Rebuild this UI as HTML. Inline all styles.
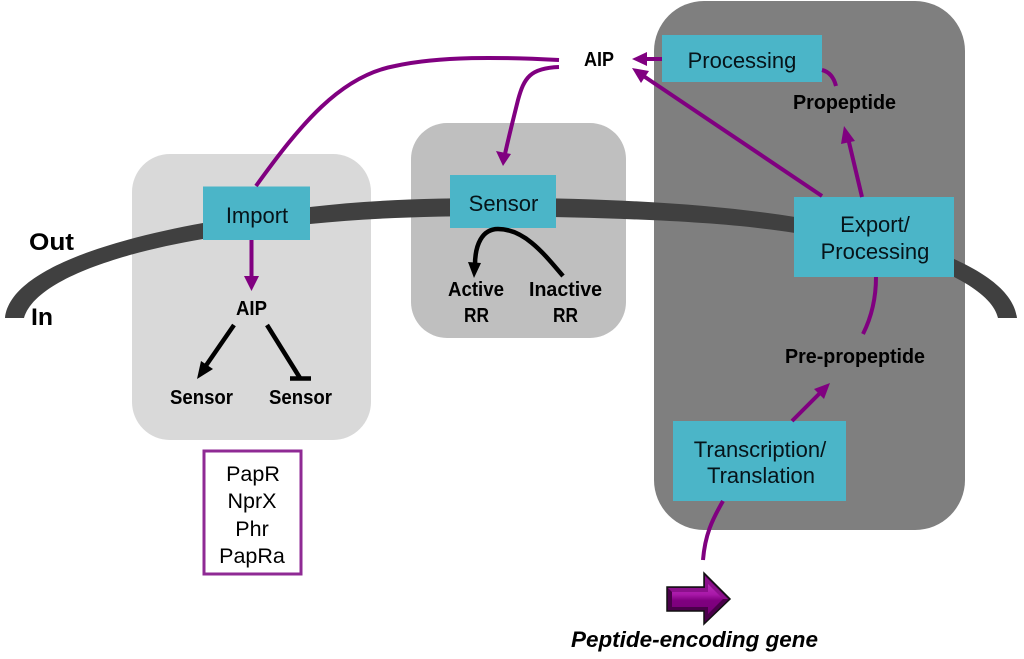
<!DOCTYPE html>
<html>
<head>
<meta charset="utf-8">
<style>
html,body{margin:0;padding:0;background:#fff;width:1024px;height:659px;overflow:hidden}
svg{display:block}
text{font-family:"Liberation Sans",Arial,sans-serif;fill:#000}
.b{font-weight:bold;font-size:20px}
.t{font-size:22px;fill:#06141a}
.p{fill:none;stroke:#800080;stroke-width:4}
.k{fill:none;stroke:#000;stroke-width:4.5}
</style>
</head>
<body>
<svg width="1024" height="659" viewBox="0 0 1024 659" xmlns="http://www.w3.org/2000/svg">
<defs>
<linearGradient id="g" x1="0" y1="0" x2="0" y2="1"><stop offset="0" stop-color="#b82cb8"/><stop offset="0.35" stop-color="#a818a8"/><stop offset="0.55" stop-color="#800080"/><stop offset="1" stop-color="#780078"/></linearGradient>
</defs>
<rect x="132" y="154" width="239" height="286" rx="38" fill="#d9d9d9"/>
<rect x="411" y="123" width="215" height="215" rx="36" fill="#bfbfbf"/>
<rect x="654" y="1" width="311" height="529" rx="50" fill="#7f7f7f"/>

<path d="M5 318 C10 270 110 240 203 223 L310 207 C370 200 430 198 500 198 C620 198 720 205 795 217 C870 228 1010 260 1017 318 L998 318 C990 280 890 245 795 233 C720 221 620 218 500 216 C430 216 370 218 310 224 L203 239 C120 253 35 280 24 318 Z" fill="#404040"/>

<g fill="#4bb5c8">
<rect x="203" y="186.500" width="107" height="53.500"/>
<rect x="450" y="175" width="106" height="53"/>
<rect x="662" y="35" width="160" height="47"/>
<rect x="794" y="197" width="160" height="80"/>
<rect x="673" y="421" width="173" height="80"/>
</g>

<!-- purple connectors -->
<path class="p" d="M559 60 C500 57 440 56 395 66 C340 76 300 125 256 186"/>
<path class="p" d="M559 67 C530 68 524 78 518 100 C513 120 508 140 505 154"/>
<polygon points="503,166 496,151 511,154" fill="#800080"/>
<path class="p" d="M662 59 L644 59"/>
<polygon points="632,59 647,52 647,66" fill="#800080"/>
<path class="p" d="M822 196 L642 75"/>
<polygon points="632,68 649,71 641,83" fill="#800080"/>
<path class="p" d="M862 197 L848 138"/>
<polygon points="844,126 855,141 841,144" fill="#800080"/>
<path class="p" d="M876 277 C876 300 871 318 863 334"/>
<path class="p" d="M822 70 C830 72 834 78 836 86"/>
<path class="p" d="M792 421 L821 392"/>
<polygon points="830,383 824,399 814,389" fill="#800080"/>
<path class="p" d="M703 560 C705 535 712 520 723 501"/>
<path class="p" d="M251.500 240 L251.500 278"/>
<polygon points="251.500,291 244,276 259,276" fill="#800080"/>

<!-- black connectors -->
<path class="k" d="M234 325 L205 367"/>
<polygon points="197,379 201,361 213,369" fill="#000"/>
<path class="k" d="M267 325 L300 378"/>
<path d="M290 378.500 L311 378.500" fill="none" stroke="#000" stroke-width="4.500"/>
<path class="k" d="M563 276 C545 255 525 229 498 229 C482 229 475 245 475 265"/>
<polygon points="474,278 468,262 481,263" fill="#000"/>

<!-- gene arrow -->
<polygon points="667,587 704,587 704,573 730,599 704,624 704,611 667,611" fill="#4a004a" stroke="#111" stroke-width="1.500"/>
<polygon points="668,588 705,588 705,576 728,599 720,599 708,587 708,592 672,592" fill="#8c108c"/>
<polygon points="672,592 708,592 708,584 723,599 708,614 708,607 672,607" fill="url(#g)"/>

<!-- box labels -->
<text class="t" x="257" y="223" text-anchor="middle">Import</text>
<text class="t" x="503.500" y="211" text-anchor="middle">Sensor</text>
<text class="t" x="742" y="68" text-anchor="middle">Processing</text>
<text class="t" x="875" y="232" text-anchor="middle">Export/</text>
<text class="t" x="875" y="259" text-anchor="middle">Processing</text>
<text class="t" x="760" y="457" text-anchor="middle">Transcription/</text>
<text class="t" x="761" y="483" text-anchor="middle">Translation</text>

<!-- bold labels -->
<text class="b" x="584" y="66" textLength="30" lengthAdjust="spacingAndGlyphs">AIP</text>
<text class="b" x="236" y="315" textLength="31" lengthAdjust="spacingAndGlyphs">AIP</text>
<text class="b" x="170" y="404" textLength="63" lengthAdjust="spacingAndGlyphs">Sensor</text>
<text class="b" x="269" y="404" textLength="63" lengthAdjust="spacingAndGlyphs">Sensor</text>
<text class="b" x="448" y="296" textLength="56" lengthAdjust="spacingAndGlyphs">Active</text>
<text class="b" x="464" y="322" textLength="25" lengthAdjust="spacingAndGlyphs">RR</text>
<text class="b" x="529" y="296" textLength="73" lengthAdjust="spacingAndGlyphs">Inactive</text>
<text class="b" x="553" y="322" textLength="25" lengthAdjust="spacingAndGlyphs">RR</text>
<text class="b" x="793" y="109" textLength="103" lengthAdjust="spacingAndGlyphs">Propeptide</text>
<text class="b" x="785" y="363" textLength="140" lengthAdjust="spacingAndGlyphs">Pre-propeptide</text>
<text x="29" y="250" font-weight="bold" font-size="24" textLength="45" lengthAdjust="spacingAndGlyphs">Out</text>
<text x="31" y="325" font-weight="bold" font-size="24" textLength="22" lengthAdjust="spacingAndGlyphs">In</text>
<text x="571" y="647" font-weight="bold" font-style="italic" font-size="22" textLength="247" lengthAdjust="spacingAndGlyphs">Peptide-encoding gene</text>

<!-- list box -->
<rect x="204" y="451" width="97" height="123" fill="#fff" stroke="#8f2a94" stroke-width="3"/>
<g font-size="21.500" text-anchor="middle">
<text x="253" y="481">PapR</text>
<text x="252" y="508">NprX</text>
<text x="252" y="536">Phr</text>
<text x="252" y="563">PapRa</text>
</g>
</svg>
</body>
</html>
